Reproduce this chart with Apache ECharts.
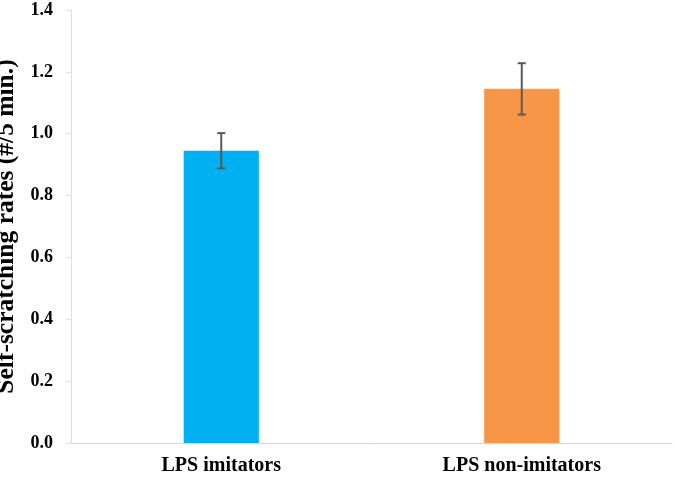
<!DOCTYPE html>
<html><head><meta charset="utf-8">
<script src="https://cdn.jsdelivr.net/npm/echarts@6/dist/echarts.min.js"></script>
<style>html,body{margin:0;padding:0;background:#fff}#c{width:675px;height:477px}</style>
</head><body><div id="c"></div>
<script>
const categories = ['LPS imitators', 'LPS non-imitators'];
const means = [0.945, 1.145];
const errors = [0.057, 0.083];
const barColors = ['#00B0F0', '#F79646'];

const font = '"Liberation Serif", "Times New Roman", serif';
const chart = echarts.init(document.getElementById('c'));
chart.setOption({
  animation: false,
  grid: { left: 71, right: 3, top: 10, bottom: 34, containLabel: false, outerBoundsMode: 'none' },
  xAxis: {
    type: 'category', data: categories,
    axisLine: { lineStyle: { color: '#D9D9D9', width: 1 } },
    axisTick: { show: false },
    axisLabel: { color: '#000', fontFamily: font, fontWeight: 'bold', fontSize: 20, margin: 13 }
  },
  yAxis: {
    type: 'value', min: 0, max: 1.4, interval: 0.2,
    name: 'Self-scratching rates (#/5 min.)', nameLocation: 'middle', nameGap: 41,
    nameTextStyle: { color: '#000', fontFamily: font, fontWeight: 'bold', fontSize: 25.5 },
    axisLine: { show: true, lineStyle: { color: '#E3E0D0' } },
    axisTick: { show: true, length: 5, lineStyle: { color: '#E3E0D0' } },
    splitLine: { show: false },
    axisLabel: { color: '#000', fontFamily: font, fontWeight: 'bold', fontSize: 18, margin: 18,
      formatter: v => v.toFixed(1) }
  },
  series: [
    {
      type: 'bar', barWidth: '25%',
      data: means.map((v, i) => ({ value: v, itemStyle: { color: barColors[i] } }))
    },
    {
      type: 'custom',
      data: means.map((v, i) => [i, v - errors[i], v + errors[i]]),
      renderItem: (params, api) => {
        const lo = api.coord([api.value(0), api.value(1)]);
        const hi = api.coord([api.value(0), api.value(2)]);
        const x = lo[0], hw = 8;
        const st = { stroke: '#595959', lineWidth: 2 };
        return { type: 'group', children: [
          { type: 'line', shape: { x1: x, y1: lo[1], x2: x, y2: hi[1] }, style: st },
          { type: 'line', shape: { x1: x - hw/2, y1: lo[1], x2: x + hw/2, y2: lo[1] }, style: st },
          { type: 'line', shape: { x1: x - hw/2, y1: hi[1], x2: x + hw/2, y2: hi[1] }, style: st }
        ]};
      },
      z: 10
    }
  ]
});
</script></body></html>
